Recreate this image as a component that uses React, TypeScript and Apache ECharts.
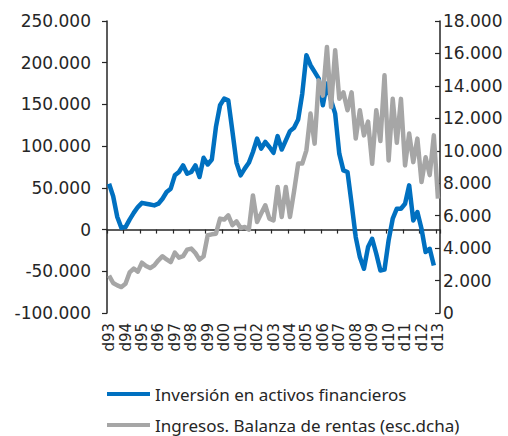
import React, { useEffect, useRef } from "react";
import * as echarts from "echarts";

const years = ["93","94","95","96","97","98","99","00","01","02","03","04","05","06","07","08","09","10","11","12","13"];
const quarterPrefixes = ["m", "j", "s", "d"];

// Inversión en activos financieros (left axis), quarterly, last quarter missing
const inversion = [
  55000,40000,15000,2000,3000,12000,20000,27000,32000,31000,
  30000,29000,31000,37000,45000,49000,65000,69000,77000,67000,
  69000,77000,63000,86000,78000,84000,123000,149000,157000,155000,
  118000,80000,65000,73000,80000,93000,109000,97000,105000,99000,
  92000,112000,96000,107000,118000,122000,132000,163000,209000,197000,
  189000,181000,149000,175000,155000,139000,91000,71000,69000,31000,
  -9000,-33000,-47000,-21000,-11000,-29000,-49000,-48000,-13000,13000,
  25000,25000,31000,53000,11000,21000,1000,-27000,-23000,-43000,null
];

// Ingresos. Balanza de rentas (right axis)
const ingresos = [
  2300,1850,1700,1600,1800,2500,2740,2550,3100,2900,
  2770,2940,3250,3500,3300,3140,3720,3410,3500,3910,
  3970,3700,3290,3500,4790,4850,4890,5820,5760,6020,
  5410,5650,5240,5300,5140,7250,5610,6130,6640,5820,
  5710,7770,5920,7770,5920,7500,9210,9210,10030,12300,
  10440,14340,13400,16400,12700,16200,13200,13600,12500,13600,
  10750,12500,10950,11800,9200,12500,10600,14650,9400,13200,
  10500,13200,9100,11060,9300,10750,8070,9600,8500,10950,7050
];

const seriesNames = ["Inversión en activos financieros", "Ingresos. Balanza de rentas (esc.dcha)"];

const categories: string[] = [];
years.forEach((y, k) => {
  if (k === 0) {
    categories.push("d" + y);
  } else {
    quarterPrefixes.forEach((p) => categories.push(p + y));
  }
});

function fmt(v: number): string {
  const neg = v < 0;
  const s = String(Math.abs(Math.round(v)));
  const parts: string[] = [];
  for (let i = s.length; i > 0; i -= 3) parts.unshift(s.substring(Math.max(0, i - 3), i));
  return (neg ? "-" : "") + parts.join(".");
}

export default function App() {
  const ref = useRef<HTMLDivElement>(null);
  useEffect(() => {
    if (!ref.current) return;
    const chart = echarts.init(ref.current, null, { renderer: "svg" });
    const axisColor = "#262626";
    const labelFont = { fontFamily: "DejaVu Sans", fontSize: 17, color: "#262626" };
    chart.setOption({
      animation: false,
      backgroundColor: "#ffffff",
      grid: { left: 107, right: 68, top: 21, bottom: 123, containLabel: false },
      legend: {
        orient: "vertical",
        left: 107,
        top: 384,
        height: 52,
        padding: 0,
        icon: "rect",
        itemWidth: 43,
        itemHeight: 4,
        itemGap: 11,
        textStyle: { fontFamily: "Noto Sans", fontSize: 17, color: "#262626", lineHeight: 20 },
        data: seriesNames,
      },
      xAxis: [
        {
          type: "category",
          data: categories,
          boundaryGap: true,
          axisLine: { show: true, onZero: true, onZeroAxisIndex: 0, lineStyle: { color: axisColor, width: 1.5 } },
          axisTick: { show: true, interval: 3, length: 4, lineStyle: { color: axisColor, width: 1.2 } },
          axisLabel: { show: false },
          splitLine: { show: false },
        },
        {
          type: "category",
          data: categories,
          boundaryGap: true,
          position: "bottom",
          axisLine: { show: false, onZero: false },
          axisTick: { show: false },
          axisLabel: {
            show: true,
            interval: 3,
            rotate: 90,
            margin: 10,
            fontFamily: "DejaVu Sans",
            fontSize: 15,
            color: "#262626",
          },
          splitLine: { show: false },
        },
      ],
      yAxis: [
        {
          type: "value",
          min: -100000,
          max: 250000,
          interval: 50000,
          position: "left",
          axisLine: { show: true, lineStyle: { color: axisColor, width: 1.5 } },
          axisTick: { show: true, length: 5, lineStyle: { color: axisColor, width: 1.2 } },
          axisLabel: { ...labelFont, margin: 16, formatter: (v: number) => fmt(v) },
          splitLine: { show: false },
        },
        {
          type: "value",
          min: 0,
          max: 18000,
          interval: 2000,
          position: "right",
          axisLine: { show: true, lineStyle: { color: axisColor, width: 1.5 } },
          axisTick: { show: true, inside: true, length: 5, lineStyle: { color: axisColor, width: 1.2 } },
          axisLabel: { ...labelFont, margin: 3, formatter: (v: number) => fmt(v) },
          splitLine: { show: false },
        },
      ],
      series: [
        {
          name: seriesNames[0],
          type: "line",
          xAxisIndex: 0,
          yAxisIndex: 0,
          data: inversion,
          showSymbol: false,
          symbol: "none",
          lineStyle: { color: "#0070C0", width: 4.5, join: "round" },
          itemStyle: { color: "#0070C0" },
        },
        {
          name: seriesNames[1],
          type: "line",
          xAxisIndex: 0,
          yAxisIndex: 1,
          data: ingresos,
          showSymbol: false,
          symbol: "none",
          lineStyle: { color: "#A6A6A6", width: 4.5, join: "round" },
          itemStyle: { color: "#A6A6A6" },
        },
      ],
    });
    return () => chart.dispose();
  }, []);
  return (
    <div
      ref={ref}
      style={{ position: "absolute", left: 0, top: 0, width: 508, height: 436 }}
    />
  );
}
